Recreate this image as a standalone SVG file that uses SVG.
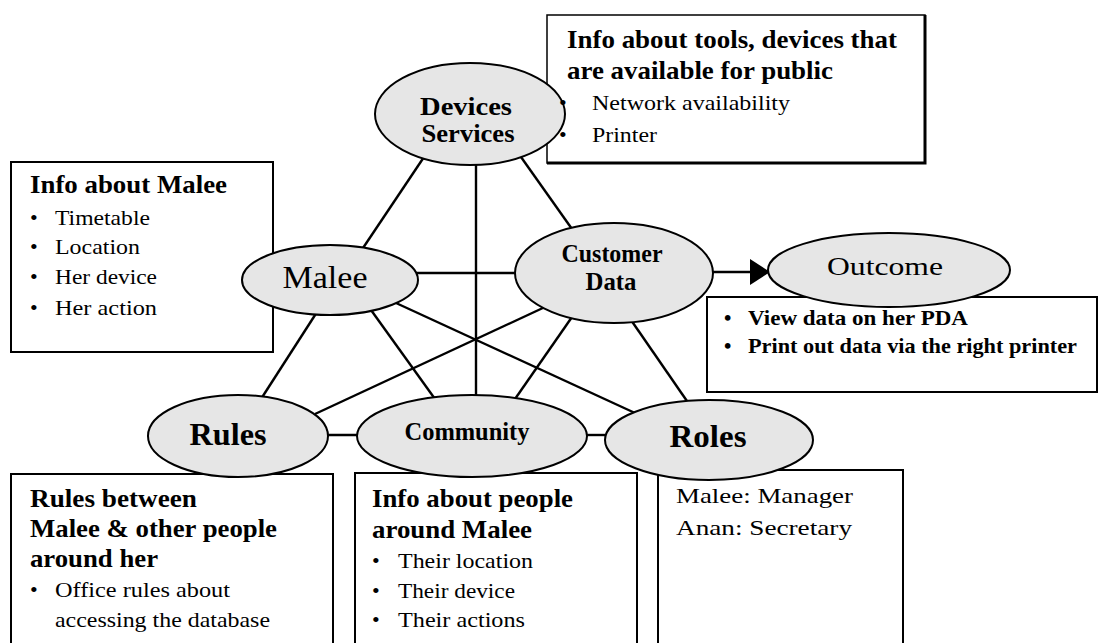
<svg xmlns="http://www.w3.org/2000/svg" width="1104" height="643" viewBox="0 0 1104 643">
  <defs>
    <marker id="arrowhead" markerUnits="userSpaceOnUse" markerWidth="22" markerHeight="28" refX="20" refY="13" orient="auto">
      <path d="M0,0 L20,13 L0,26 Z" fill="#000"/>
    </marker>
    <style>
      .link { stroke: #000; stroke-width: 2.4; fill: none; }
      .node { fill: #e6e6e6; stroke: #000; stroke-width: 2; }
      .note { fill: #fff; stroke: #000; stroke-width: 2; }
      text { font-family: "Liberation Serif", "Times New Roman", serif; fill: #000; }
      .head { font-size: 25px; font-weight: bold; }
      .item { font-size: 22px; }
      .out { font-size: 21px; font-weight: bold; }
      .lbl { font-size: 25px; font-weight: bold; text-anchor: middle; }
      .big { font-size: 32px; font-weight: bold; text-anchor: middle; }
    </style>
  </defs>
  <rect width="1104" height="643" fill="#fff"/>

  <!-- connectors -->
  <g id="connectors">
    <line class="link" x1="424" y1="157" x2="363" y2="248"/>
    <line class="link" x1="476" y1="160" x2="476" y2="398"/>
    <line class="link" x1="521" y1="157" x2="572" y2="229"/>
    <line class="link" x1="414" y1="273" x2="520" y2="273"/>
    <line class="link" x1="396" y1="303" x2="635" y2="413"/>
    <line class="link" x1="371" y1="310" x2="435" y2="399"/>
    <line class="link" x1="317" y1="312" x2="261" y2="399"/>
    <line class="link" x1="545" y1="307" x2="315" y2="414"/>
    <line class="link" x1="572" y1="317" x2="515" y2="399"/>
    <line class="link" x1="631" y1="320" x2="689" y2="404"/>
    <line class="link" x1="324" y1="435" x2="361" y2="435"/>
    <line class="link" x1="583" y1="435" x2="610" y2="435"/>
    <line class="link" x1="710" y1="272" x2="770" y2="272" marker-end="url(#arrowhead)"/>
  </g>

  <!-- info panels -->
  <g id="note-devices">
    <rect x="547" y="15" width="378" height="148" fill="#fff" stroke="#000" stroke-width="1.5"/>
    <polyline points="925,15 925,163 547,163" fill="none" stroke="#000" stroke-width="3"/>
  </g>
  <g id="note-malee">
    <rect class="note" x="11" y="162" width="262" height="190"/>
    <text class="head" x="30" y="193" textLength="197" lengthAdjust="spacingAndGlyphs">Info about Malee</text>
    <text class="item" x="30" y="225">•</text>
    <text class="item" x="55" y="225" textLength="95" lengthAdjust="spacingAndGlyphs">Timetable</text>
    <text class="item" x="30" y="254">•</text>
    <text class="item" x="55" y="254" textLength="85" lengthAdjust="spacingAndGlyphs">Location</text>
    <text class="item" x="30" y="284">•</text>
    <text class="item" x="55" y="284" textLength="102" lengthAdjust="spacingAndGlyphs">Her device</text>
    <text class="item" x="30" y="315">•</text>
    <text class="item" x="55" y="315" textLength="102" lengthAdjust="spacingAndGlyphs">Her action</text>
  </g>
  <g id="note-rules">
    <rect class="note" x="11" y="474" width="322" height="190"/>
    <text class="head" x="30" y="507" textLength="167" lengthAdjust="spacingAndGlyphs">Rules between</text>
    <text class="head" x="30" y="537" textLength="247" lengthAdjust="spacingAndGlyphs">Malee &amp; other people</text>
    <text class="head" x="30" y="567" textLength="128" lengthAdjust="spacingAndGlyphs">around her</text>
    <text class="item" x="30" y="597">•</text>
    <text class="item" x="55" y="597" textLength="175" lengthAdjust="spacingAndGlyphs">Office rules about</text>
    <text class="item" x="55" y="627" textLength="215" lengthAdjust="spacingAndGlyphs">accessing the database</text>
  </g>
  <g id="note-community">
    <rect class="note" x="355" y="473" width="282" height="190"/>
    <text class="head" x="372" y="507" textLength="201" lengthAdjust="spacingAndGlyphs">Info about people</text>
    <text class="head" x="372" y="538" textLength="160" lengthAdjust="spacingAndGlyphs">around Malee</text>
    <text class="item" x="372" y="568">•</text>
    <text class="item" x="398" y="568" textLength="135" lengthAdjust="spacingAndGlyphs">Their location</text>
    <text class="item" x="372" y="598">•</text>
    <text class="item" x="398" y="598" textLength="117" lengthAdjust="spacingAndGlyphs">Their device</text>
    <text class="item" x="372" y="627">•</text>
    <text class="item" x="398" y="627" textLength="127" lengthAdjust="spacingAndGlyphs">Their actions</text>
  </g>
  <g id="note-roles">
    <rect class="note" x="658" y="470" width="245" height="190"/>
    <text class="item" x="676" y="503" textLength="177" lengthAdjust="spacingAndGlyphs">Malee: Manager</text>
    <text class="item" x="676" y="535" textLength="176" lengthAdjust="spacingAndGlyphs">Anan: Secretary</text>
  </g>
  <g id="note-outcome">
    <rect class="note" x="707" y="297" width="390" height="95"/>
    <text class="out" x="724" y="325">•</text>
    <text class="out" x="748" y="325" textLength="220" lengthAdjust="spacingAndGlyphs">View data on her PDA</text>
    <text class="out" x="724" y="353">•</text>
    <text class="out" x="748" y="353" textLength="329" lengthAdjust="spacingAndGlyphs">Print out data via the right printer</text>
  </g>

  <!-- nodes -->
  <g id="node-devices">
    <ellipse class="node" cx="470" cy="114" rx="95" ry="51"/>
    <text class="lbl" x="466" y="115" textLength="92" lengthAdjust="spacingAndGlyphs">Devices</text>
    <text class="lbl" x="468" y="142" textLength="93" lengthAdjust="spacingAndGlyphs">Services</text>
  </g>
  <g id="node-malee">
    <ellipse class="node" cx="330" cy="280" rx="88" ry="35"/>
    <text x="325" y="288" font-size="32" text-anchor="middle" textLength="85" lengthAdjust="spacingAndGlyphs">Malee</text>
  </g>
  <g id="node-customer">
    <ellipse class="node" cx="614" cy="273" rx="99" ry="50"/>
    <text class="lbl" x="612" y="262" textLength="101" lengthAdjust="spacingAndGlyphs">Customer</text>
    <text class="lbl" x="611" y="290" textLength="51" lengthAdjust="spacingAndGlyphs">Data</text>
  </g>
  <g id="node-outcome">
    <ellipse class="node" cx="889" cy="270" rx="121" ry="37"/>
    <text x="885" y="275" font-size="26" text-anchor="middle" textLength="116" lengthAdjust="spacingAndGlyphs">Outcome</text>
  </g>
  <g id="node-rules">
    <ellipse class="node" cx="238" cy="436" rx="90" ry="41"/>
    <text class="big" x="228" y="445" textLength="77" lengthAdjust="spacingAndGlyphs">Rules</text>
  </g>
  <g id="node-community">
    <ellipse class="node" cx="472" cy="436" rx="115" ry="41"/>
    <text class="lbl" x="467" y="440" font-size="24" textLength="125" lengthAdjust="spacingAndGlyphs">Community</text>
  </g>
  <g id="node-roles">
    <ellipse class="node" cx="709" cy="440" rx="104" ry="40"/>
    <text class="big" x="708" y="447" textLength="77" lengthAdjust="spacingAndGlyphs">Roles</text>
  </g>

  <!-- text of the devices panel, laid over the ellipse edge -->
  <g id="note-devices-text">
    <text class="head" x="567" y="48" textLength="330" lengthAdjust="spacingAndGlyphs">Info about tools, devices that</text>
    <text class="head" x="567" y="79" textLength="266" lengthAdjust="spacingAndGlyphs">are available for public</text>
    <text class="item" x="559" y="110">•</text>
    <text class="item" x="592" y="110" textLength="198" lengthAdjust="spacingAndGlyphs">Network availability</text>
    <text class="item" x="559" y="142">•</text>
    <text class="item" x="592" y="142" textLength="65" lengthAdjust="spacingAndGlyphs">Printer</text>
  </g>
</svg>
